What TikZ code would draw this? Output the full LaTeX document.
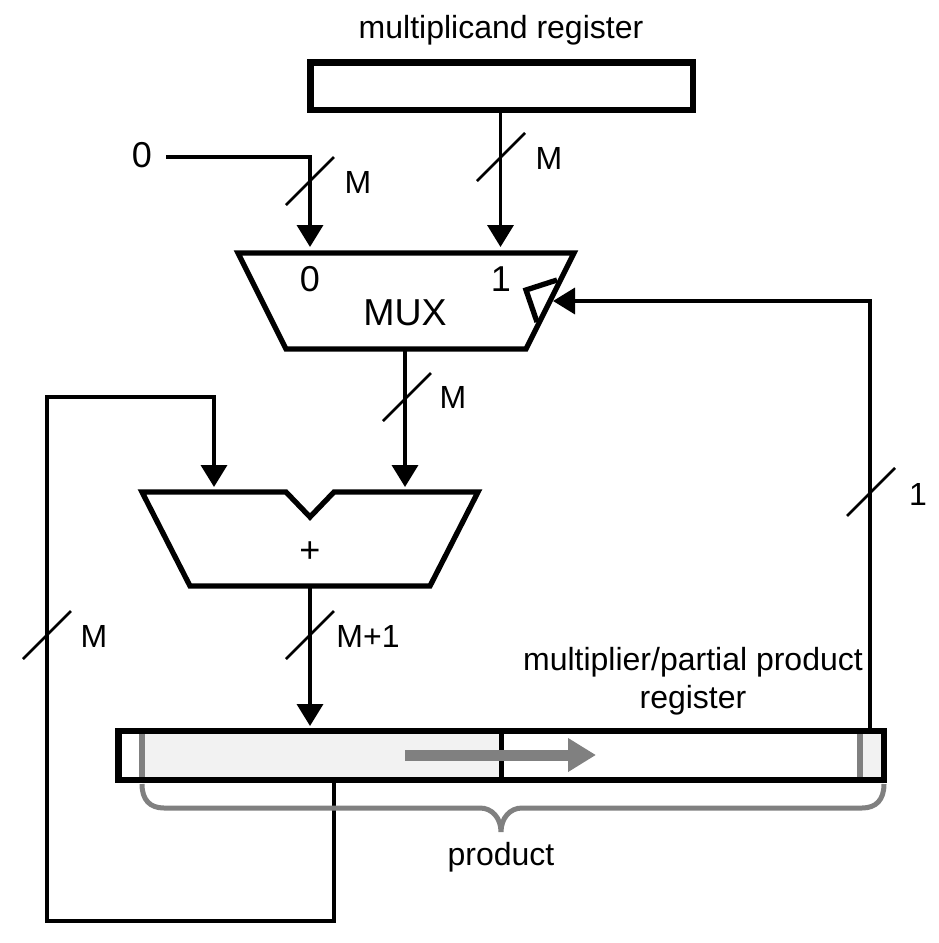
\documentclass[tikz,border=0pt]{standalone}
\usepackage{fontspec}
\setmainfont{Liberation Sans}
\usetikzlibrary{arrows.meta,calc}
\tikzset{
  x=1pt,y=-1pt,
  wire/.style={draw=black,line width=3.6pt},
  arrowwire/.style={wire,-{Triangle[length=22pt,width=26pt]}},
  slashline/.style={draw=black,line width=2.6pt},
  block/.style={draw=black,line width=5.3pt,miter limit=10,line join=miter},
  regbox/.style={draw=black,line width=6.5pt,fill=none,inner sep=0pt,outer sep=0pt,anchor=north west},
  label/.style={font=\fontsize{32}{36}\selectfont,inner sep=0pt,text=black},
  graymark/.style={draw=gray50,line width=6pt},
  graybrace/.style={draw=gray50,line width=5pt},
}
\definecolor{gray50}{HTML}{808080}
\definecolor{lightfill}{HTML}{F2F2F2}
\begin{document}
\begin{tikzpicture}
\useasboundingbox (0,0) rectangle (939,943);
% named points
\coordinate (z0) at (166,157);
\coordinate (zc) at (310,157);
\coordinate (m0) at (310,247);
\coordinate (m1) at (500.5,247);
\coordinate (mr) at (577,301);
\coordinate (mt) at (553,301);
\coordinate (mb) at (405,349);
\coordinate (ar) at (405,487);
\coordinate (al) at (214,487);
\coordinate (ao) at (310,586);
\coordinate (ri) at (310,726);
\coordinate (ro) at (334,780);
\coordinate (rr) at (870,731);
% gray fills
\fill[lightfill] (142,731) rectangle (499,780);
\fill[lightfill] (860,731) rectangle (884,780);
\draw[graymark] (142,731) -- (142,780);
\draw[graymark] (860,731) -- (860,780);
% registers
\node[regbox,minimum width=382.5pt,minimum height=47.5pt] (mcand) at (310.25,62.25) {};
\node[regbox,minimum width=765.5pt,minimum height=49pt] (mplier) at (118.5,731) {};
\draw[draw=black,line width=5pt] (501,731) -- (501,780);
% shift arrow
\coordinate (sa) at (405,755);
\coordinate (sb) at (596,755);
\draw[draw=gray50,line width=11pt,-{Triangle[length=28pt,width=32pt]}] (sa) -- (sb);
% MUX
\draw[block] (238,253) -- (574,253) -- (526,349) -- (286,349) -- cycle;
\draw[block] (557,280) -- (526,290) -- (537,322);
% adder
\draw[block] (142,492) -- (286,492) -- (310,517) -- (334,492) -- (478,492) -- (430,586) -- (190,586) -- cycle;
% wires
\draw[arrowwire] (z0) -- (zc) -- (m0);
\draw[arrowwire] (mcand.south -| m1) -- (m1);
\draw[arrowwire] (mb) -- (ar);
\draw[arrowwire] (ao) -- (ri);
\draw[arrowwire] (ro) -- (334,921) -- (47,921) -- (47,397) -- (214,397) -- (al);
\draw[arrowwire] (rr) -- (870,301) -- (mt);
% slashes
\draw[slashline] (286,205) -- (334,157);
\draw[slashline] (477,181) -- (525,133);
\draw[slashline] (383,421) -- (431,373);
\draw[slashline] (286,659) -- (334,611);
\draw[slashline] (23,659) -- (71,611);
\draw[slashline] (847,516) -- (895,468);
% brace
\draw[graybrace] (142,784) .. controls (142,800) and (150,808) .. (164,808) -- (480,808)
  .. controls (492,808) and (501,818) .. (501,832)
  .. controls (501,818) and (510,808) .. (522,808) -- (862,808)
  .. controls (876,808) and (884,800) .. (884,784);
% labels
\node[label] (tmc) at (501,30) {multiplicand register};
\node[label,font=\fontsize{36}{38}\selectfont] (tz) at (142,155) {0};
\node[label] (tm1) at (358,182) {M};
\node[label] (tm2) at (549,158) {M};
\node[label,font=\fontsize{36}{38}\selectfont] (t0) at (310,279) {0};
\node[label,font=\fontsize{36}{38}\selectfont] (t1) at (501,279) {1};
\node[label,font=\fontsize{37.5}{40}\selectfont] (tmux) at (405,313) {MUX};
\node[label] (tm3) at (453,397) {M};
\node[label,font=\fontsize{36}{38}\selectfont] (tplus) at (310,552) {+};
\node[label] (tm4) at (94,636) {M};
\node[label] (tm5) at (368,636) {M+1};
\node[label] (tone) at (918,494) {1};
\node[label] (tmp1) at (693,662) {multiplier/partial product};
\node[label] (tmp2) at (693,700) {register};
\node[label] (tprod) at (501,857) {product};
\end{tikzpicture}
\end{document}
